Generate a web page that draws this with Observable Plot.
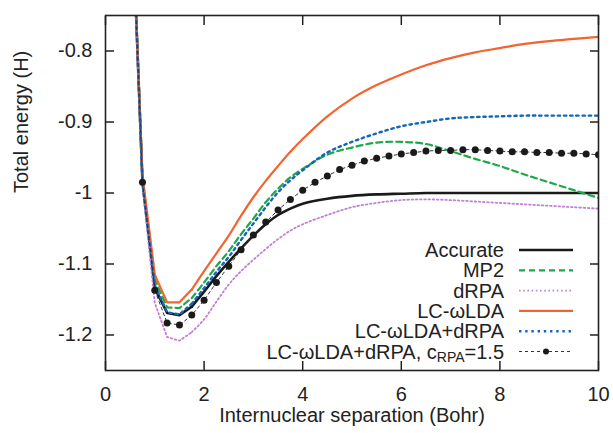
<!DOCTYPE html>
<html><head><meta charset="utf-8">
<script src="https://cdn.jsdelivr.net/npm/d3@7"></script>
<script src="https://cdn.jsdelivr.net/npm/@observablehq/plot@0.6"></script>
<style>
html,body{margin:0;padding:0;background:#fff;}
#chart{width:613px;height:433px;overflow:hidden}
</style></head><body><div id="chart"></div>
<script>
// ---- data ----
const xTicks = [0, 2, 4, 6, 8, 10];
const yTicks = [-1.2, -1.1, -1, -0.9, -0.8];
const xTitle = "Internuclear separation (Bohr)";
const yTitle = "Total energy (H)";

const rGrid = [0.5,0.75,1,1.25,1.5,1.75,2,2.25,2.5,2.75,3,3.25,3.5,3.75,4,4.5,5,5.5,6,6.5,7,7.5,8,8.5,9,9.5,10];
const accurate = [-0.53,-0.985,-1.134,-1.169,-1.172,-1.160,-1.139,-1.117,-1.097,-1.078,-1.060,-1.044,-1.031,-1.022,-1.015,-1.008,-1.004,-1.002,-1.001,-1.000,-1.000,-1.000,-1.000,-1.000,-1.000,-1.000,-1.000];
const mp2 = [-0.53,-0.98,-1.122,-1.161,-1.162,-1.148,-1.126,-1.103,-1.082,-1.058,-1.036,-1.013,-0.994,-0.978,-0.966,-0.946,-0.936,-0.929,-0.928,-0.931,-0.941,-0.952,-0.962,-0.974,-0.985,-0.996,-1.007];
const drpa = [-0.55,-0.99,-1.155,-1.203,-1.208,-1.196,-1.178,-1.153,-1.129,-1.110,-1.094,-1.079,-1.065,-1.053,-1.044,-1.031,-1.020,-1.014,-1.010,-1.009,-1.010,-1.012,-1.014,-1.016,-1.018,-1.020,-1.022];
const lcwlda = [-0.53,-0.975,-1.115,-1.154,-1.154,-1.136,-1.110,-1.085,-1.060,-1.032,-1.006,-0.983,-0.962,-0.942,-0.924,-0.892,-0.867,-0.848,-0.833,-0.820,-0.810,-0.802,-0.796,-0.790,-0.786,-0.783,-0.780];
const lcdrpa = [-0.53,-0.985,-1.130,-1.168,-1.171,-1.156,-1.134,-1.111,-1.090,-1.066,-1.043,-1.020,-0.999,-0.982,-0.968,-0.943,-0.928,-0.916,-0.906,-0.900,-0.895,-0.893,-0.892,-0.891,-0.891,-0.891,-0.891];

const rDots = [0.5,0.75,1,1.25,1.5,1.75,2,2.25,2.5,2.75,3,3.25,3.5,3.75,4,4.25,4.5,4.75,5,5.25,5.5,5.75,6,6.25,6.5,6.75,7,7.25,7.5,7.75,8,8.25,8.5,8.75,9,9.25,9.5,9.75,10];
const lcdrpa15 = [-0.53,-0.985,-1.137,-1.183,-1.186,-1.172,-1.151,-1.126,-1.103,-1.080,-1.059,-1.041,-1.024,-1.009,-0.996,-0.985,-0.976,-0.967,-0.961,-0.955,-0.951,-0.948,-0.945,-0.943,-0.941,-0.940,-0.940,-0.939,-0.939,-0.940,-0.941,-0.942,-0.942,-0.943,-0.943,-0.944,-0.944,-0.945,-0.946];

const seriesNames = ["Accurate", "MP2", "dRPA", "LC-\u03c9LDA", "LC-\u03c9LDA+dRPA"];

// ---- styles ----
const styles = [
  {stroke: "#1a1a1a", strokeWidth: 2.6, dash: null},
  {stroke: "#1fa84a", strokeWidth: 2.2, dash: "6,4"},
  {stroke: "#c27fd3", strokeWidth: 1.8, dash: "1.6,2.6"},
  {stroke: "#f26430", strokeWidth: 2.2, dash: null},
  {stroke: "#1565b8", strokeWidth: 2.4, dash: "2.4,3.8"}
];
const seriesVals = [accurate, mp2, drpa, lcwlda, lcdrpa];
const rows = (xs, ys) => xs.map((r, i) => ({r, e: ys[i]}));
const splitR = 1.75;

const W = 613, H = 433;
const font = "'Liberation Sans', Arial, Helvetica, sans-serif";

const lineMarks = seriesVals.flatMap((vals, i) => {
  const data = rows(rGrid, vals);
  const opts = {x: "r", y: "e", stroke: styles[i].stroke, strokeWidth: styles[i].strokeWidth,
    strokeDasharray: styles[i].dash, clip: true};
  return [
    Plot.line(data.filter(d => d.r <= splitR), {...opts, curve: "linear"}),
    Plot.line(data.filter(d => d.r >= splitR), {...opts, curve: "catmull-rom"})
  ];
});

const plot = Plot.plot({
  width: W, height: H,
  marginLeft: 105, marginRight: 15, marginTop: 15, marginBottom: 63,
  style: {fontFamily: font, fontSize: "20px", color: "#222", background: "#fff"},
  x: {domain: [0, 10]},
  y: {domain: [-1.25, -0.75]},
  marks: [
    ...lineMarks,
    Plot.line(rows(rDots, lcdrpa15), {x: "r", y: "e", stroke: "#333", strokeWidth: 1, strokeDasharray: "3,3", clip: true}),
    Plot.dot(rows(rDots, lcdrpa15), {x: "r", y: "e", r: 3.5, fill: "#1a1a1a", clip: true}),
    Plot.frame({stroke: "#222", strokeWidth: 1.6}),
    Plot.axisX(xTicks, {anchor: "bottom", tickSize: -9, fill: "none", strokeWidth: 1.5, label: null}),
    Plot.axisX(xTicks, {anchor: "top", tickSize: -9, fill: "none", strokeWidth: 1.5, label: null}),
    Plot.axisX(xTicks, {anchor: "bottom", tickSize: 0, tickPadding: 16, label: null, fontSize: 20}),
    Plot.axisY(yTicks, {anchor: "left", tickSize: -9, fill: "none", strokeWidth: 1.5, label: null}),
    Plot.axisY(yTicks, {anchor: "right", tickSize: -9, fill: "none", strokeWidth: 1.5, label: null}),
    Plot.axisY(yTicks, {anchor: "left", tickSize: 0, tickPadding: 13, label: null, fontSize: 20, tickFormat: d => String(d)}),
    Plot.text([xTitle], {text: d => d, frameAnchor: "bottom", dy: 51.6, fontSize: 20, fill: "#222"}),
    Plot.text([yTitle], {text: d => d, frameAnchor: "left", rotate: -90, dx: -83.8, fontSize: 20, fill: "#222"})
  ]
});

// ---- legend ----
const svg = d3.select(plot);
const lg = svg.append("g").attr("font-family", font).attr("font-size", 20).attr("fill", "#222");
const textX = 504, s0 = 519, s1 = 573, row0 = 250, rowH = 20.3;
seriesNames.forEach((name, i) => {
  const y = row0 + i * rowH;
  lg.append("text").attr("x", textX).attr("y", y + 7).attr("text-anchor", "end").text(name);
  lg.append("line").attr("x1", s0).attr("x2", s1).attr("y1", y).attr("y2", y)
    .attr("stroke", styles[i].stroke).attr("stroke-width", styles[i].strokeWidth)
    .attr("stroke-dasharray", styles[i].dash);
});
{
  const y = row0 + 5 * rowH;
  const t = lg.append("text").attr("x", textX).attr("y", y + 7).attr("text-anchor", "end");
  t.append("tspan").text("LC-\u03c9LDA+dRPA, c");
  t.append("tspan").attr("font-size", 14).attr("dy", 3).text("RPA");
  t.append("tspan").attr("dy", -3).text("=1.5");
  lg.append("line").attr("x1", s0).attr("x2", s1).attr("y1", y).attr("y2", y)
    .attr("stroke", "#333").attr("stroke-width", 1).attr("stroke-dasharray", "3,3");
  lg.append("circle").attr("cx", (s0 + s1) / 2).attr("cy", y).attr("r", 3).attr("fill", "#1a1a1a");
}

document.getElementById("chart").appendChild(plot);
</script>
</body></html>
